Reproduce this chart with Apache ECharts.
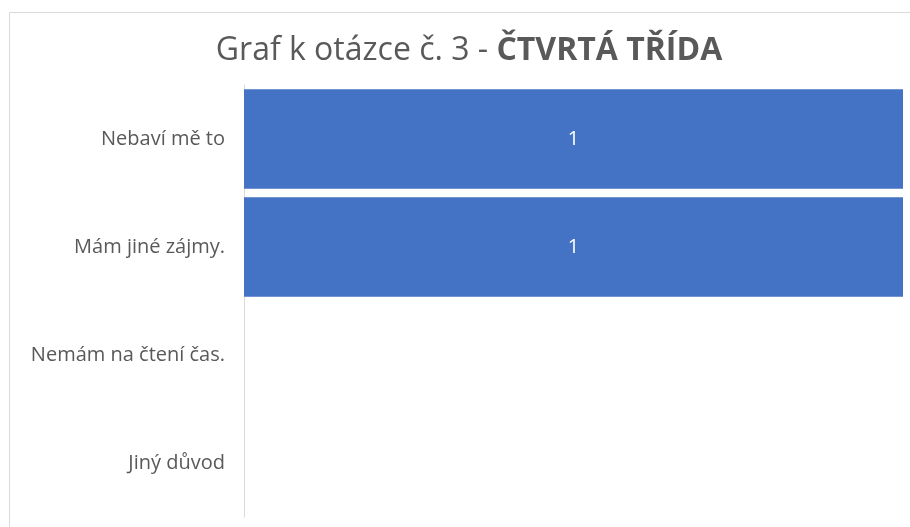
<!DOCTYPE html>
<html>
<head>
<meta charset="utf-8">
<script src="https://cdn.jsdelivr.net/npm/echarts@6/dist/echarts.min.js"></script>
<style>
  html, body { margin: 0; padding: 0; background: #fff; }
  #chart { width: 910px; height: 527px; }
</style>
</head>
<body>
<div id="chart"></div>
<script>
// data
const categories = ['Nebaví mě to', 'Mám jiné zájmy.', 'Nemám na čtení čas.', 'Jiný důvod']
const counts = [1, 1, 0, 0]

const FONT = '"Open Sans", "Noto Sans", sans-serif'
const chart = echarts.init(document.getElementById('chart'))

chart.setOption({
  backgroundColor: '#fff',
  animation: false,
  title: {
    text: '{n|Graf k otázce č. 3 - }{b|ČTVRTÁ TŘÍDA}',
    left: 464,
    textAlign: 'center',
    top: 30,
    textStyle: {
      rich: {
        n: { fontFamily: FONT, fontSize: 32, color: '#595959', fontWeight: 'normal' },
        b: { fontFamily: FONT, fontSize: 32, color: '#595959', fontWeight: 'bold' }
      }
    }
  },
  graphic: [{
    type: 'rect',
    shape: { x: 9.5, y: 12.5, width: 1000, height: 1000 },
    style: { fill: 'none', stroke: '#d9d9d9', lineWidth: 1 },
    silent: true
  }],
  grid: { left: 244, right: 7, top: 85, bottom: 10 },
  xAxis: {
    type: 'value',
    min: 0,
    max: 1,
    show: false
  },
  yAxis: {
    type: 'category',
    inverse: true,
    data: categories,
    axisLine: { lineStyle: { color: '#d9d9d9', width: 1 } },
    axisTick: { show: false },
    axisLabel: {
      margin: 19,
      fontFamily: FONT,
      fontSize: 20,
      color: '#595959'
    }
  },
  series: [{
    type: 'bar',
    data: counts,
    barCategoryGap: '8%',
    itemStyle: { color: '#4472c4' },
    label: {
      show: true,
      position: 'inside',
      color: '#fff',
      fontFamily: FONT,
      fontSize: 20,
      formatter: p => (p.value > 0 ? p.value : '')
    }
  }]
})
</script>
</body>
</html>
